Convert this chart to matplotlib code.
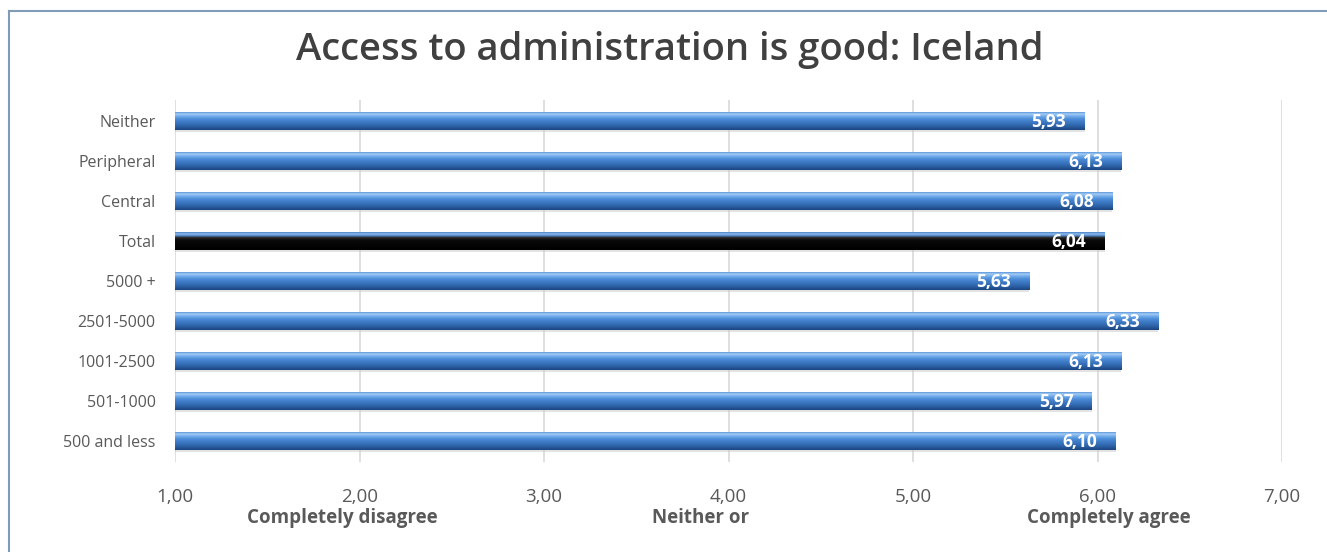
import numpy as np
import matplotlib.pyplot as plt
from matplotlib.colors import LinearSegmentedColormap

# data (bottom to top)
categories = ['500 and less', '501-1000', '1001-2500', '2501-5000', '5000 +',
              'Total', 'Central', 'Peripheral', 'Neither']
values = [6.10, 5.97, 6.13, 6.33, 5.63, 6.04, 6.08, 6.13, 5.93]
value_labels = ['6,10', '5,97', '6,13', '6,33', '5,63', '6,04', '6,08', '6,13', '5,93']
xticks = [1, 2, 3, 4, 5, 6, 7]
xtick_labels = ['1,00', '2,00', '3,00', '4,00', '5,00', '6,00', '7,00']
scale_names = ['Completely disagree', 'Neither or', 'Completely agree']
scale_pos = [1.905, 3.85, 6.06]

plt.rcParams['font.family'] = ['Open Sans', 'DejaVu Sans']

fig = plt.figure(figsize=(13.27, 5.52), dpi=100)
ax = fig.add_axes([175/1327, 1-462/552, (1282-175)/1327, 362/552])

# vertical gradients for the bar look
blue_cmap = LinearSegmentedColormap.from_list(
    'blue', [(0, '#1c4680'), (0.25, '#2f66ad'), (0.6, '#4a8ad6'),
             (0.8, '#79b0ec'), (0.9, '#a6cdf4'), (1.0, '#5d98dc')])
black_cmap = LinearSegmentedColormap.from_list(
    'black', [(0, '#000000'), (0.55, '#0a0a0a'), (0.7, '#2a2a2a'),
              (0.8, '#4f86c8'), (0.9, '#8fbdee'), (1.0, '#4a82c6')])
grad = np.linspace(0, 1, 64).reshape(-1, 1)

h = 0.45
y = np.arange(len(categories))
for i, (cat, v) in enumerate(zip(categories, values)):
    cmap = black_cmap if cat == 'Total' else blue_cmap
    # soft shadow
    ax.barh(i - 0.04, v - 1, left=1, height=h, color='#c8c8c8', alpha=0.5,
            zorder=2, linewidth=0)
    ax.imshow(grad, cmap=cmap, aspect='auto', origin='lower',
              extent=[1, v, i - h/2, i + h/2], zorder=3, interpolation='bilinear')
    ax.text(v - 0.1, i - 0.02, value_labels[i], ha='right', va='center',
            color='white', fontsize=12.5, fontweight='bold', zorder=4)

ax.set_xlim(1, 7)
ax.set_ylim(-0.525, 8.525)
ax.set_xticks(xticks)
ax.set_xticklabels(xtick_labels, fontsize=13.5)
ax.set_yticks(y)
ax.set_yticklabels(categories, fontsize=11.5)
ax.grid(axis='x', color='#d9d9d9', linewidth=1.2, zorder=0)
ax.set_axisbelow(True)
for s in ax.spines.values():
    s.set_visible(False)
ax.tick_params(axis='both', length=0, colors='#595959')
ax.tick_params(axis='x', pad=19)
ax.tick_params(axis='y', pad=14)

for name, pos in zip(scale_names, scale_pos):
    ax.text(pos, -1.92, name, ha='center', va='center', fontsize=13.5,
            fontweight='bold', color='#595959')

fig.text(0.505, 0.91, 'Access to administration is good: Iceland', ha='center',
         va='center', fontsize=27.5, fontweight='semibold', color='#404040')

# chart frame (left and top edges visible)
fig.add_artist(plt.Line2D([9/1327, 9/1327], [0, 1-11/552], color='#7f9bb5', linewidth=1.5))
fig.add_artist(plt.Line2D([9/1327, 1], [1-11/552, 1-11/552], color='#7f9bb5', linewidth=1.5))

fig.savefig('out.png', dpi=100)
